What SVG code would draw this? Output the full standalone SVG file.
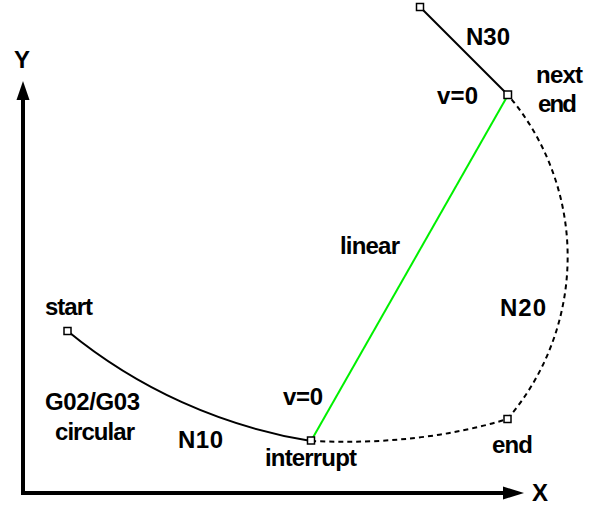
<svg xmlns="http://www.w3.org/2000/svg" width="595" height="517" viewBox="0 0 595 517">
<style>
text{font-family:"Liberation Sans",Arial,sans-serif;font-weight:bold;font-size:24px;fill:#000}
.ax{stroke:#000;stroke-width:4;fill:none}
.path{stroke:#000;stroke-width:2;fill:none}
.dash{stroke:#000;stroke-width:2;fill:none;stroke-dasharray:5 4}
.lin{stroke:#00f000;stroke-width:2;fill:none}
.pt{fill:#fff;stroke:#000;stroke-width:1.5}
</style>
<rect width="595" height="517" fill="#fff"/>
<g id="axes">
<polyline class="ax" points="23,98 23,493 505,493"/>
<polygon points="23,81 16.5,100 29.5,100" fill="#000"/>
<polygon points="524,493 503,486.5 503,499.5" fill="#000"/>
<text x="14" y="68" textLength="16">Y</text>
<text x="532" y="501" textLength="16">X</text>
</g>
<g id="connectors">
<path id="n30" class="path" d="M420,7 L508,95"/>
<path id="linear" class="lin" d="M311,441 L508,95"/>
<path id="n10" class="path" d="M67.5,331 A512,512 0 0 0 311,441"/>
<path id="n10rest" class="dash" d="M311,441 Q420,446 507.5,419"/>
<path id="n20" class="dash" d="M507.5,419 A249,249 0 0 0 508,95"/>
</g>
<g id="node-n30start"><rect class="pt" x="416.5" y="3.5" width="7" height="7"/></g>
<g id="node-nextend"><rect class="pt" x="504" y="91" width="7.5" height="7.5"/>
<text x="536" y="83" textLength="47">next</text>
<text x="538" y="112" textLength="39">end</text>
<text x="437" y="104" textLength="41">v=0</text></g>
<g id="node-start"><rect class="pt" x="64" y="327.5" width="7" height="7"/>
<text x="45" y="315" textLength="48">start</text></g>
<g id="node-interrupt"><rect class="pt" x="307.5" y="437" width="7" height="7"/>
<text x="265" y="466" textLength="92">interrupt</text>
<text x="283" y="405" textLength="40">v=0</text></g>
<g id="node-end"><rect class="pt" x="504" y="415.5" width="7" height="7"/>
<text x="492" y="453" textLength="41">end</text></g>
<g id="labels">
<text x="466" y="45" textLength="44">N30</text>
<text x="340" y="254" textLength="60">linear</text>
<text x="500" y="316" textLength="46">N20</text>
<text x="45" y="410" textLength="95">G02/G03</text>
<text x="55" y="440" textLength="80">circular</text>
<text x="178" y="448" textLength="45">N10</text>
</g>
</svg>
